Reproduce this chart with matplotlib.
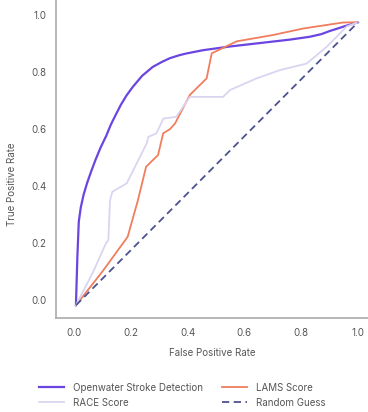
import matplotlib
matplotlib.use('Agg')
import matplotlib.pyplot as plt

plt.rcParams['font.family'] = ['Inter', 'DejaVu Sans']

# curvas ROC
fprOpenwater = [0.007, 0.012, 0.017, 0.024, 0.034, 0.046, 0.06, 0.077, 0.095, 0.113, 0.13, 0.148, 0.165, 0.185,
                0.207, 0.24, 0.277, 0.31, 0.338, 0.37, 0.394, 0.455, 0.55, 0.69, 0.76, 0.83, 0.87, 0.90, 0.95, 1.0]
tprOpenwater = [-0.018, 0.15, 0.275, 0.325, 0.37, 0.41, 0.45, 0.495, 0.538, 0.575, 0.616, 0.652, 0.685, 0.718,
                0.748, 0.787, 0.818, 0.836, 0.849, 0.859, 0.865, 0.877, 0.89, 0.906, 0.914, 0.924, 0.933, 0.944,
                0.96, 0.975]

fprLams = [0.007, 0.10, 0.189, 0.225, 0.254, 0.296, 0.314, 0.338, 0.356, 0.408, 0.467, 0.485, 0.573, 0.70, 0.807,
           0.947, 1.0]
tprLams = [-0.018, 0.10, 0.222, 0.35, 0.468, 0.509, 0.585, 0.60, 0.62, 0.72, 0.778, 0.866, 0.908, 0.93, 0.953,
           0.974, 0.975]

fprRace = [0.007, 0.068, 0.113, 0.121, 0.127, 0.135, 0.186, 0.256, 0.262, 0.29, 0.315, 0.36, 0.408, 0.525, 0.549,
           0.643, 0.725, 0.819, 0.89, 0.96, 1.0]
tprRace = [-0.018, 0.10, 0.20, 0.21, 0.35, 0.38, 0.41, 0.55, 0.573, 0.585, 0.637, 0.643, 0.713, 0.713, 0.737,
           0.778, 0.807, 0.83, 0.889, 0.96, 0.975]

fprAzar = [0.007, 1.0]
tprAzar = [-0.018, 0.975]

ticks = [0.0, 0.2, 0.4, 0.6, 0.8, 1.0]
etiquetasTicks = ['0.0', '0.2', '0.4', '0.6', '0.8', '1.0']

colorTexto = '#555555'

fig = plt.figure(figsize=(3.68, 4.12), dpi=100)
ax = fig.add_axes([0.152, 0.228, 0.848, 0.772])

ax.plot(fprOpenwater, tprOpenwater, color='#6a45e2', lw=1.6, label='Openwater Stroke Detection')
ax.plot(fprLams, tprLams, color='#f07d5e', lw=1.3, label='LAMS Score')
ax.plot(fprRace, tprRace, color='#d9d5f1', lw=1.3, label='RACE Score')
ax.plot(fprAzar, tprAzar, color='#4d5290', lw=1.3, ls=(0, (4, 2.5)), label='Random Guess')

ax.set_xlim(-0.0634, 1.035)
ax.set_ylim(-0.063, 1.053)
ax.set_xticks(ticks)
ax.set_xticklabels(etiquetasTicks)
ax.set_yticks(ticks)
ax.set_yticklabels(etiquetasTicks)
ax.tick_params(length=0, labelsize=7, colors=colorTexto, pad=7)

for lado in ['top', 'right']:
    ax.spines[lado].set_visible(False)
for lado in ['left', 'bottom']:
    ax.spines[lado].set_color('#aaaaaa')
    ax.spines[lado].set_linewidth(1.2)

ax.set_xlabel('False Positive Rate', fontsize=7, color=colorTexto, labelpad=7)
ax.set_ylabel('True Positive Rate', fontsize=7, color=colorTexto, labelpad=10)
ax.yaxis.set_label_coords(-0.125, 0.42)

manejadores, etiquetas = ax.get_legend_handles_labels()
orden = [0, 2, 1, 3]
fig.legend([manejadores[i] for i in orden], [etiquetas[i] for i in orden],
           loc='upper left', bbox_to_anchor=(0.105, 0.071), ncol=2, frameon=False,
           fontsize=7, labelcolor=colorTexto, handlelength=2.6, handletextpad=0.9,
           columnspacing=2.0, labelspacing=0.5, borderaxespad=0, borderpad=0)

fig.savefig('out.png', dpi=100)
